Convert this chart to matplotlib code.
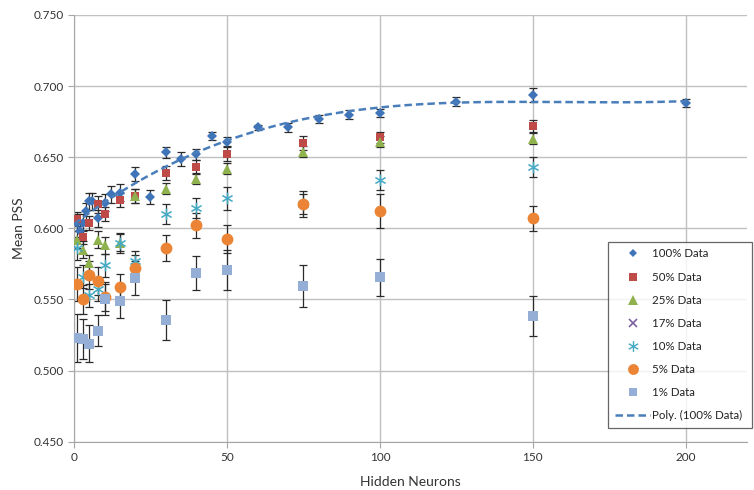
import matplotlib
matplotlib.use("Agg")
import matplotlib.pyplot as plt
import numpy as np
from matplotlib.lines import Line2D

plt.rcParams["font.family"] = ["Lato", "DejaVu Sans"]

# hidden neuron counts
x_100 = [1, 2, 3, 4, 5, 6, 8, 10, 12, 15, 20, 25, 30, 35, 40, 45, 50,
         60, 70, 80, 90, 100, 125, 150, 200]
x_sub = [1, 3, 5, 8, 10, 15, 20, 30, 40, 50, 75, 100, 150]

pss_100 = [0.604, 0.598, 0.604, 0.612, 0.619, 0.619, 0.607, 0.618, 0.624, 0.625,
           0.638, 0.622, 0.6535, 0.6486, 0.652, 0.665, 0.661,
           0.671, 0.671, 0.677, 0.680, 0.681, 0.689, 0.694, 0.688]
err_100 = [0.006, 0.006, 0.006, 0.006, 0.006, 0.006, 0.006, 0.006, 0.006, 0.006,
           0.005, 0.005, 0.004, 0.005, 0.004, 0.003, 0.003,
           0.002, 0.003, 0.003, 0.003, 0.003, 0.003, 0.005, 0.003]

pss_50 = [0.6065, 0.594, 0.604, 0.617, 0.610, 0.620, 0.623, 0.639, 0.643, 0.652, 0.660, 0.664, 0.672]
err_50 = [0.005, 0.005, 0.005, 0.006, 0.005, 0.005, 0.005, 0.005, 0.005, 0.005, 0.005, 0.004, 0.004]

pss_25 = [0.592, 0.585, 0.5756, 0.592, 0.588, 0.590, 0.623, 0.628, 0.635, 0.642, 0.654, 0.661, 0.663]
err_25 = [0.006, 0.006, 0.006, 0.006, 0.006, 0.006, 0.005, 0.004, 0.004, 0.004, 0.004, 0.004, 0.004]

pss_17 = []
err_17 = []

pss_10 = [0.586, 0.566, 0.553, 0.557, 0.574, 0.590, 0.577, 0.610, 0.614, 0.621, 0.617, 0.634, 0.643]
err_10 = [0.008, 0.008, 0.008, 0.008, 0.008, 0.007, 0.007, 0.007, 0.007, 0.008, 0.007, 0.007, 0.007]

pss_5 = [0.561, 0.550, 0.567, 0.563, 0.552, 0.559, 0.572, 0.586, 0.602, 0.5925, 0.617, 0.612, 0.607]
err_5 = [0.012, 0.010, 0.010, 0.010, 0.010, 0.009, 0.009, 0.009, 0.009, 0.010, 0.009, 0.012, 0.009]

pss_1 = [0.523, 0.522, 0.519, 0.528, 0.550, 0.549, 0.565, 0.5355, 0.5686, 0.5706, 0.5594, 0.5657, 0.5383]
err_1 = [0.017, 0.014, 0.013, 0.011, 0.011, 0.012, 0.012, 0.014, 0.012, 0.014, 0.015, 0.013, 0.014]

series = [
    ("100% Data", x_100, pss_100, err_100, "D", "#3f75b8", 4.8),
    ("50% Data", x_sub, pss_50, err_50, "s", "#be4b48", 6.2),
    ("25% Data", x_sub, pss_25, err_25, "^", "#8fb24f", 7.2),
    ("17% Data", x_sub[:0], pss_17, err_17, "x", "#7d60a0", 6),
    ("10% Data", x_sub, pss_10, err_10, "$\u2217$", "#46aac5", 8.5),
    ("5% Data", x_sub, pss_5, err_5, "o", "#eb8535", 8.5),
    ("1% Data", x_sub, pss_1, err_1, "s", "#94aed6", 6.5),
]

fig = plt.figure(figsize=(7.54, 4.90), dpi=100)
ax = fig.add_axes([0.0981, 0.0986, 0.8926, 0.8708])

grid_c = "#c0c0c0"
ax.set_axisbelow(True)
ax.grid(True, color=grid_c, linewidth=1.0)
for s in ("top", "right"):
    ax.spines[s].set_visible(False)
for s in ("left", "bottom"):
    ax.spines[s].set_color("#a6a6a6")

handles = []
for label, xs, ys, es, mk, col, ms in series:
    if len(ys):
        ax.errorbar(xs, ys, yerr=es, fmt="none", ecolor="#2b2b2b",
                    elinewidth=0.9, capsize=3, capthick=0.9, zorder=2)
        ax.plot(xs, ys, linestyle="none", marker=mk, color=col,
                markersize=ms, markeredgewidth=1.2 if mk == "x" else 0, zorder=3)
    handles.append(Line2D([], [], linestyle="none", marker=mk, color=col,
                          markersize=ms * 0.92, markeredgewidth=1.2 if mk == "x" else 0))

# polynomial trendline on the 100% data
coef = np.polyfit(x_100, pss_100, 3)
xf = np.linspace(0, 200, 300)
ax.plot(xf, np.polyval(coef, xf), color="#4a7ebb", linewidth=1.8,
        dashes=(3, 1.6), zorder=4)
handles.append(Line2D([], [], color="#4a7ebb", linewidth=1.8, dashes=(3, 1.6)))

ax.set_xlim(0, 220)
ax.set_ylim(0.45, 0.75)
ax.set_xticks([0, 50, 100, 150, 200])
ax.set_yticks(np.arange(0.45, 0.751, 0.05))
ax.yaxis.set_major_formatter(matplotlib.ticker.FormatStrFormatter("%.3f"))
ax.tick_params(axis="both", labelsize=8.5, colors="#a6a6a6", labelcolor="#333333",
               length=4, direction="out")

ax.set_xlabel("Hidden Neurons", fontsize=10, color="#333333", labelpad=9)
ax.set_ylabel("Mean PSS", fontsize=10, color="#333333", labelpad=6)

labels = [s[0] for s in series] + ["Poly. (100% Data)"]
leg = fig.legend(handles, labels, loc="upper left",
                 bbox_to_anchor=(0.807, 0.122, 0.191, 0.385), mode="expand",
                 fontsize=8.3, frameon=True, fancybox=False, labelspacing=1.05,
                 handlelength=3.0, handletextpad=0.2, borderpad=0.6,
                 borderaxespad=0)
leg.get_frame().set_edgecolor("#404040")
leg.get_frame().set_linewidth(0.9)
for t in leg.get_texts():
    t.set_color("#222222")

fig.savefig("out.png", dpi=100)
